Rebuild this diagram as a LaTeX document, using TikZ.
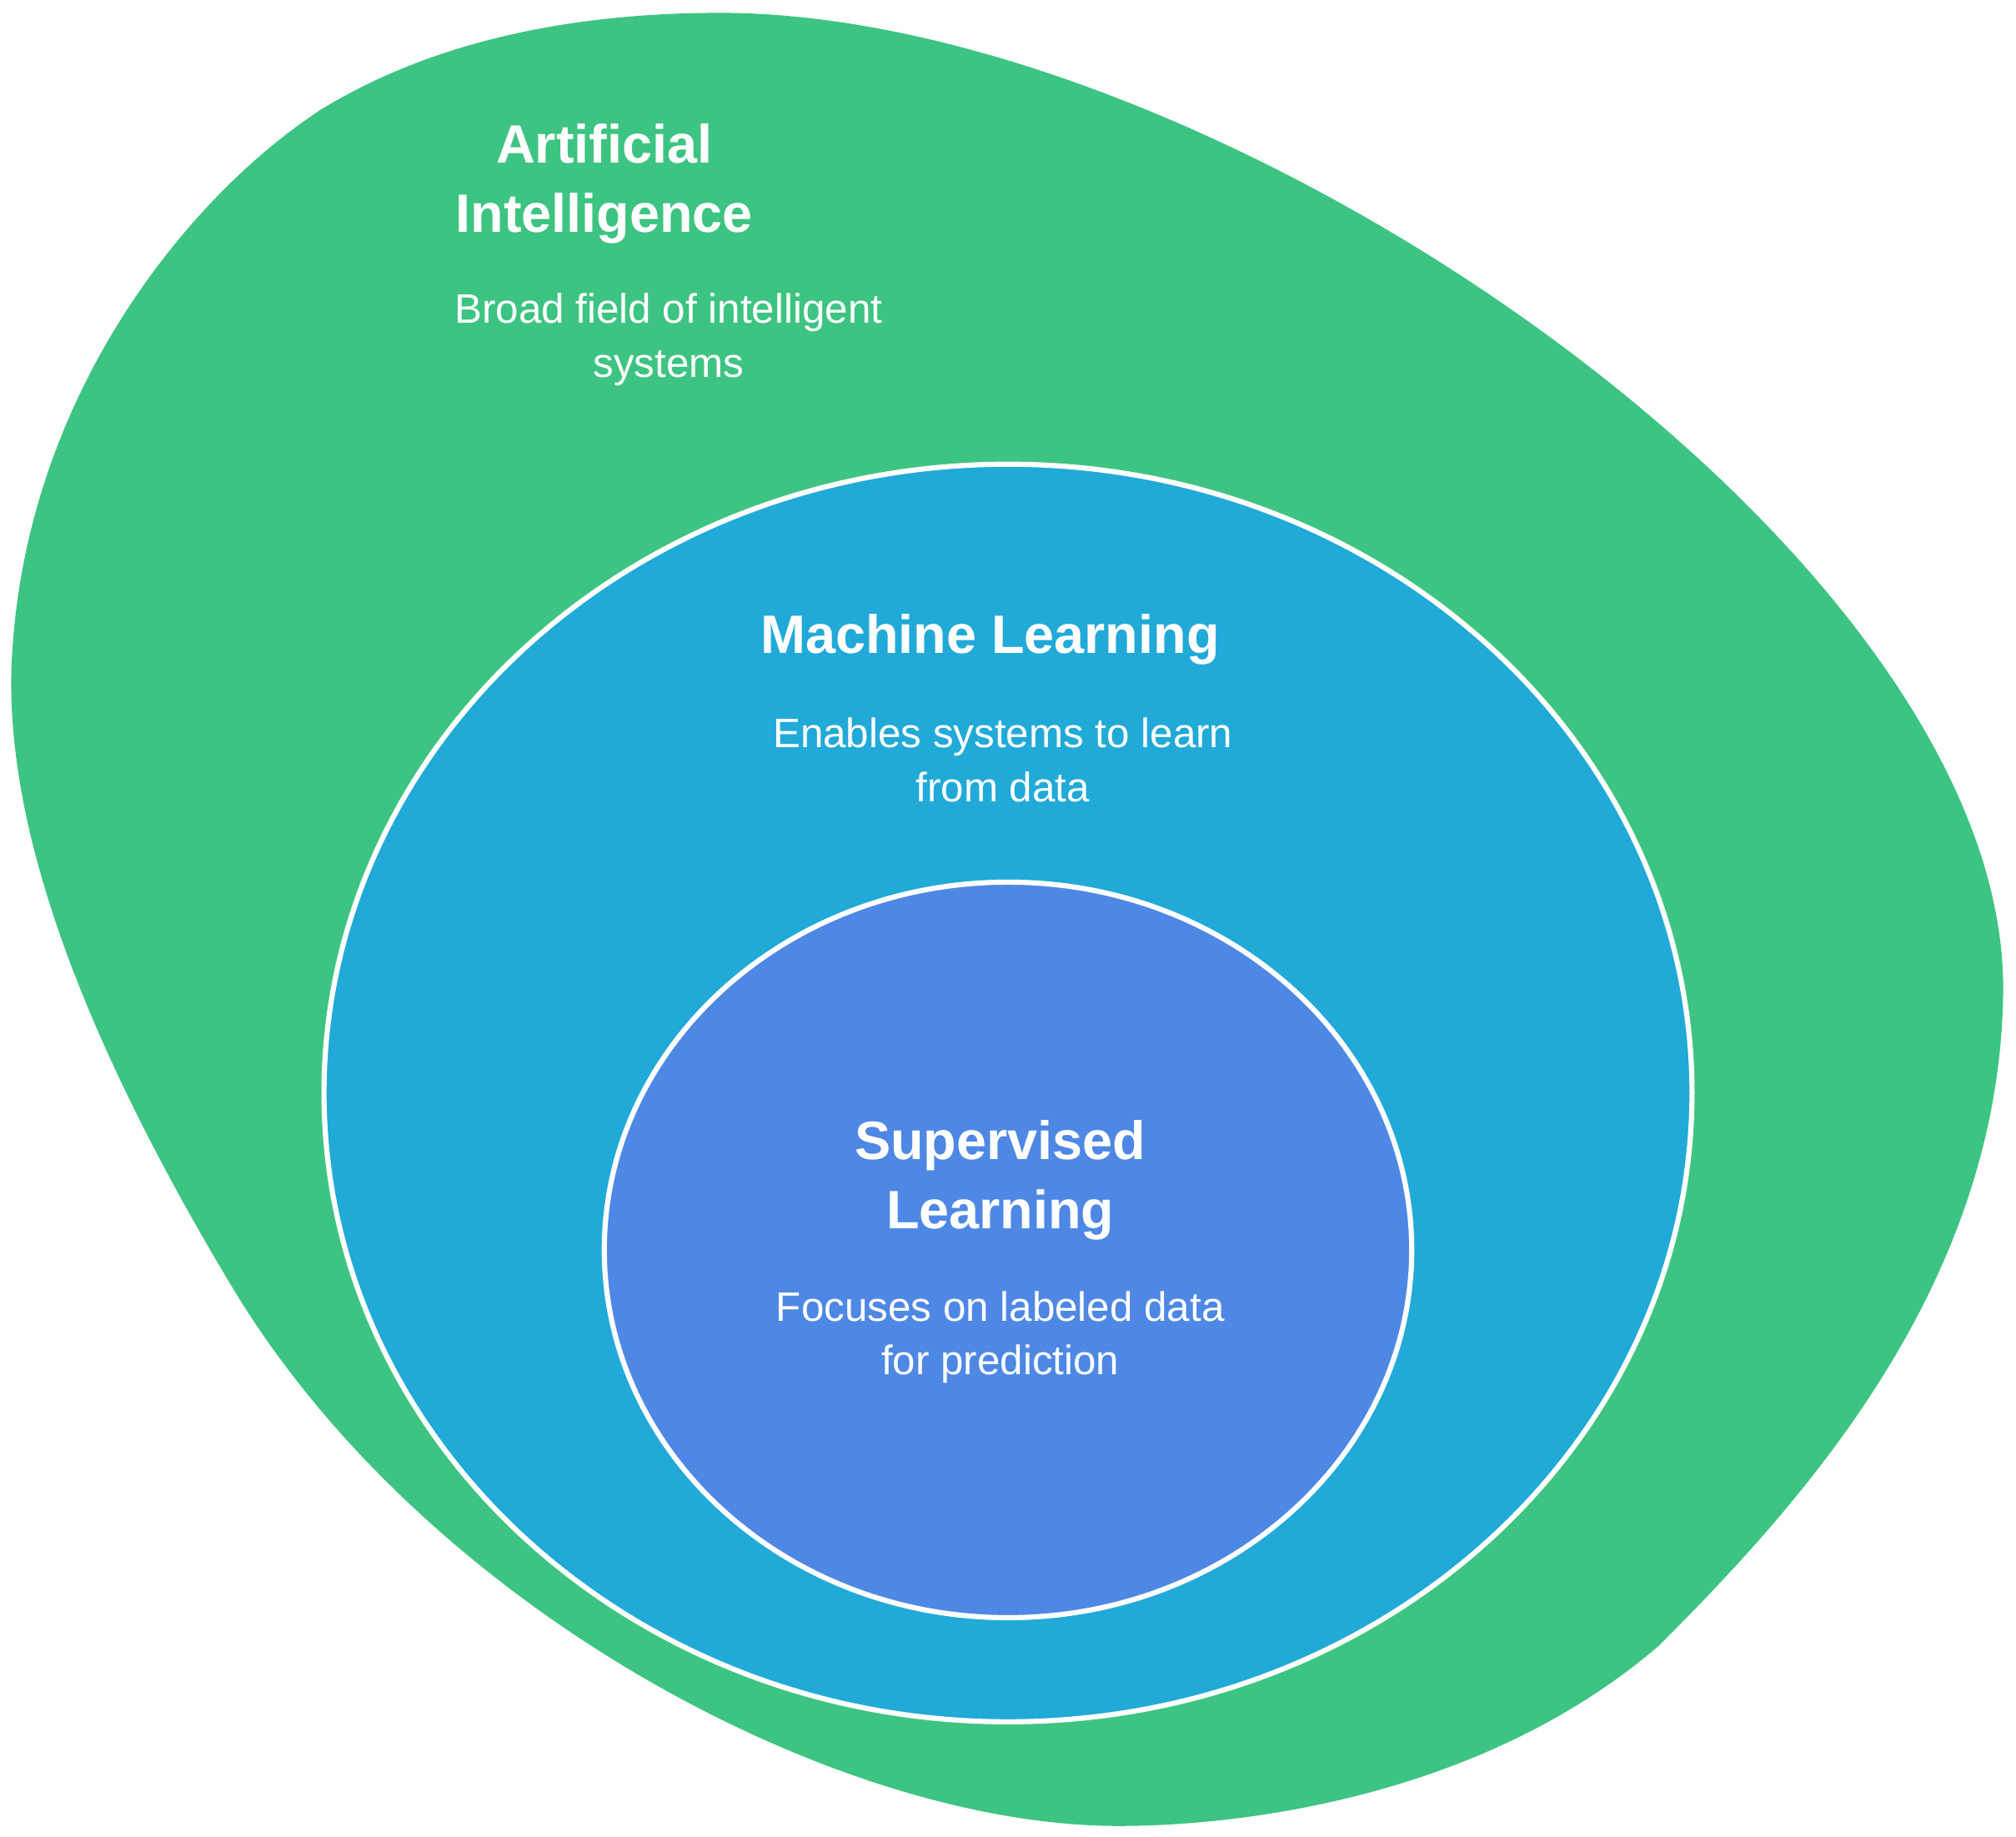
\documentclass[tikz,border=0pt]{standalone}
\usepackage{fontspec}
\setmainfont{Liberation Sans}
\begin{document}
\begin{tikzpicture}[x=0.5pt,y=-0.5pt,
 ttl/.style={text=white,font=\fontsize{21}{27}\selectfont\bfseries,align=center},
 dsc/.style={text=white,font=\fontsize{16}{21}\selectfont,align=center}]
\definecolor{gr}{HTML}{3EC482}
\definecolor{bl}{HTML}{21AAD8}
\definecolor{pu}{HTML}{4E88E4}
\useasboundingbox (0,0) rectangle (1568,1428);
\fill[gr] (560,10) .. controls (950,10) and (1560,430) .. (1558,770)
 .. controls (1556,1000) and (1400,1170) .. (1290,1280)
 .. controls (1150,1400) and (960,1420) .. (870,1420)
 .. controls (650,1420) and (330,1250) .. (180,1000)
 .. controls (48,780) and (0,620) .. (10,500)
 .. controls (25,300) and (150,150) .. (250,85)
 .. controls (340,30) and (450,10) .. (560,10) -- cycle;
\draw[white,line width=2pt,fill=bl] (784,850) ellipse [x radius=532, y radius=489];
\draw[white,line width=2pt,fill=pu] (784,972) ellipse [x radius=314, y radius=286];
\node[ttl] (ai) at (470,143) {Artificial\\Intelligence};
\node[dsc] (aid) at (520,264) {Broad field of intelligent\\systems};
\node[ttl] (ml) at (770,497) {Machine Learning};
\node[dsc] (mld) at (780,591) {Enables systems to learn\\from data};
\node[ttl] (sl) at (778,918) {Supervised\\Learning};
\node[dsc] (sld) at (778,1040) {Focuses on labeled data\\for prediction};
\end{tikzpicture}
\end{document}
